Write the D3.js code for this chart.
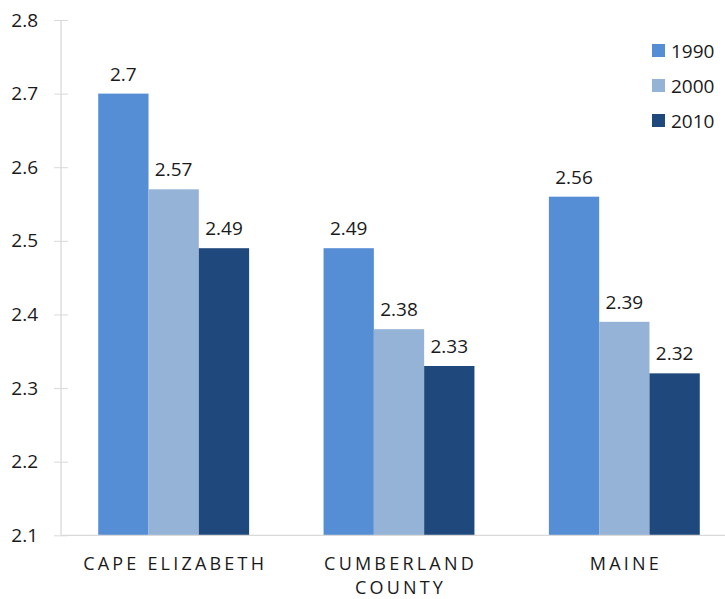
<!DOCTYPE html>
<html><head><meta charset="utf-8">
<script src="https://cdn.jsdelivr.net/npm/d3@7"></script>
<style>body{margin:0;background:#fff;} text{font-family:"Open Sans","Noto Sans",sans-serif;fill:#1a1a1a;}</style>
</head><body><svg id="c" width="725" height="599"></svg>
<script>
const categories = [["CAPE ELIZABETH"], ["CUMBERLAND", "COUNTY"], ["MAINE"]];
const seriesNames = ["1990", "2000", "2010"];
const v1990 = [2.7, 2.49, 2.56];
const v2000 = [2.57, 2.38, 2.39];
const v2010 = [2.49, 2.33, 2.32];
const yTicks = [2.1, 2.2, 2.3, 2.4, 2.5, 2.6, 2.7, 2.8];
const colors = ["#558ED5", "#95B3D7", "#1F497D"];
const series = [v1990, v2000, v2010];

const svg = d3.select("#c");
const y = d3.scaleLinear().domain([2.1, 2.8]).range([535.3, 20]);
const x0 = d3.scaleBand().domain(d3.range(categories.length)).range([61, 737]).paddingInner(0).paddingOuter(0);
const x1 = d3.scaleBand().domain(d3.range(seriesNames.length)).range([0, x0.bandwidth()]).paddingInner(0).paddingOuter(0.74);

// axes
const yAxis = d3.axisLeft(y).tickValues(yTicks).tickSize(7).tickFormat(d3.format(".1f"));
const gy = svg.append("g").attr("transform", "translate(61,0)").call(yAxis);
gy.select(".domain").remove();
gy.selectAll(".tick line").attr("stroke", "#d9d9d9").attr("x2", 7).attr("x1", -7);
gy.selectAll(".tick text").attr("x", -23).attr("font-size", 19).attr("fill", "#1a1a1a").style("font-family", '"Open Sans","Noto Sans",sans-serif');
svg.append("line").attr("x1", 61).attr("x2", 61).attr("y1", y(2.8)).attr("y2", y(2.1)).attr("stroke", "#d9d9d9").attr("stroke-width", 1.3);

// bars
series.forEach((vals, si) => {
  svg.append("g").selectAll("rect").data(vals).join("rect")
    .attr("x", (d, i) => x0(i) + x1(si))
    .attr("width", x1.bandwidth())
    .attr("y", d => y(d))
    .attr("height", d => y(2.1) - y(d))
    .attr("fill", colors[si]);
  svg.append("g").selectAll("text").data(vals).join("text")
    .attr("x", (d, i) => x0(i) + x1(si) + x1.bandwidth() / 2)
    .attr("y", d => y(d) - 13)
    .attr("text-anchor", "middle")
    .attr("font-size", 19)
    .text(d => String(d));
});

svg.append("line").attr("x1", 61).attr("x2", 725).attr("y1", y(2.1)).attr("y2", y(2.1)).attr("stroke", "#d9d9d9").attr("stroke-width", 1.3);

// category labels
categories.forEach((lines, i) => {
  const t = svg.append("text").attr("text-anchor", "middle").attr("font-size", 18).attr("letter-spacing", 3.2);
  lines.forEach((l, j) => t.append("tspan").attr("x", x0(i) + x0.bandwidth() / 2 + 1.5).attr("y", 570 + j * 24).text(l));
});

// legend
seriesNames.forEach((n, i) => {
  const g = svg.append("g").attr("transform", `translate(652,${44 + i * 35})`);
  g.append("rect").attr("width", 13).attr("height", 13).attr("fill", colors[i]);
  g.append("text").attr("x", 19).attr("y", 13.5).attr("font-size", 19).text(n);
});
</script></body></html>
